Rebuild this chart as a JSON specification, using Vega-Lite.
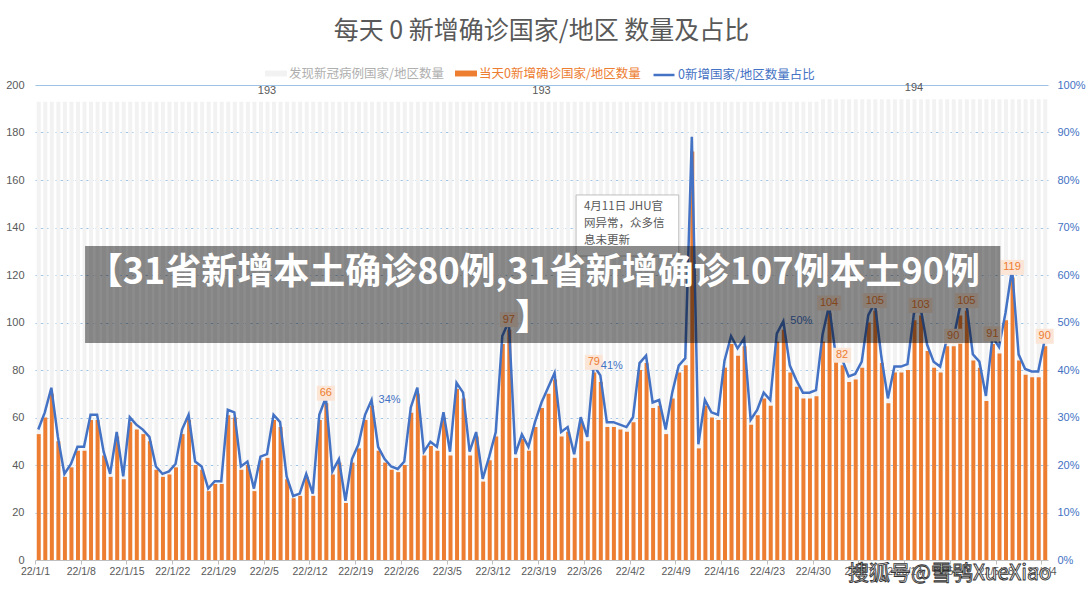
{
"$schema":"https://vega.github.io/schema/vega-lite/v6.json",
"width":1013,"height":475,
"autosize":{"type":"none"},
"padding":{"left":35,"top":85,"right":40,"bottom":30},
"background":"white",
"title":{"text":"每天 0 新增确诊国家/地区 数量及占比","fontSize":25,"fontWeight":"normal","color":"#595959","font":"Noto Sans CJK SC","anchor":"middle","offset":19},
"config":{"font":"Noto Sans CJK SC","view":{"stroke":null},"axis":{"labelFont":"Liberation Sans"},"legend":{"labelLimit":400}},
"data":{"values":[
{"d":"2022-01-01","t":193,"n":53,"p":0.2746},
{"d":"2022-01-02","t":193,"n":60,"p":0.3109},
{"d":"2022-01-03","t":193,"n":70,"p":0.3627},
{"d":"2022-01-04","t":193,"n":50,"p":0.2591},
{"d":"2022-01-05","t":193,"n":35,"p":0.1813},
{"d":"2022-01-06","t":193,"n":39,"p":0.2021},
{"d":"2022-01-07","t":193,"n":46,"p":0.2383},
{"d":"2022-01-08","t":193,"n":46,"p":0.2383},
{"d":"2022-01-09","t":193,"n":59,"p":0.3057},
{"d":"2022-01-10","t":193,"n":59,"p":0.3057},
{"d":"2022-01-11","t":193,"n":44,"p":0.2280},
{"d":"2022-01-12","t":193,"n":35,"p":0.1813},
{"d":"2022-01-13","t":193,"n":52,"p":0.2694},
{"d":"2022-01-14","t":193,"n":34,"p":0.1762},
{"d":"2022-01-15","t":193,"n":58,"p":0.3005},
{"d":"2022-01-16","t":193,"n":55,"p":0.2850},
{"d":"2022-01-17","t":193,"n":53,"p":0.2746},
{"d":"2022-01-18","t":193,"n":50,"p":0.2591},
{"d":"2022-01-19","t":193,"n":38,"p":0.1969},
{"d":"2022-01-20","t":193,"n":35,"p":0.1813},
{"d":"2022-01-21","t":193,"n":36,"p":0.1865},
{"d":"2022-01-22","t":193,"n":39,"p":0.2021},
{"d":"2022-01-23","t":193,"n":53,"p":0.2746},
{"d":"2022-01-24","t":193,"n":59,"p":0.3057},
{"d":"2022-01-25","t":193,"n":40,"p":0.2073},
{"d":"2022-01-26","t":193,"n":38,"p":0.1969},
{"d":"2022-01-27","t":193,"n":29,"p":0.1503},
{"d":"2022-01-28","t":193,"n":32,"p":0.1658},
{"d":"2022-01-29","t":193,"n":32,"p":0.1658},
{"d":"2022-01-30","t":193,"n":61,"p":0.3161},
{"d":"2022-01-31","t":193,"n":60,"p":0.3109},
{"d":"2022-02-01","t":193,"n":38,"p":0.1969},
{"d":"2022-02-02","t":193,"n":40,"p":0.2073},
{"d":"2022-02-03","t":193,"n":29,"p":0.1503},
{"d":"2022-02-04","t":193,"n":42,"p":0.2176},
{"d":"2022-02-05","t":193,"n":43,"p":0.2228,"tl":193},
{"d":"2022-02-06","t":193,"n":59,"p":0.3057},
{"d":"2022-02-07","t":193,"n":56,"p":0.2902},
{"d":"2022-02-08","t":193,"n":34,"p":0.1762},
{"d":"2022-02-09","t":193,"n":26,"p":0.1347},
{"d":"2022-02-10","t":193,"n":27,"p":0.1399},
{"d":"2022-02-11","t":193,"n":35,"p":0.1813},
{"d":"2022-02-12","t":193,"n":27,"p":0.1399},
{"d":"2022-02-13","t":193,"n":59,"p":0.3057},
{"d":"2022-02-14","t":193,"n":66,"p":0.3420,"lab":66},
{"d":"2022-02-15","t":193,"n":36,"p":0.1865},
{"d":"2022-02-16","t":193,"n":41,"p":0.2124},
{"d":"2022-02-17","t":193,"n":24,"p":0.1244},
{"d":"2022-02-18","t":193,"n":41,"p":0.2124},
{"d":"2022-02-19","t":193,"n":47,"p":0.2435},
{"d":"2022-02-20","t":193,"n":59,"p":0.3057},
{"d":"2022-02-21","t":193,"n":65,"p":0.3368,"pl":"34%"},
{"d":"2022-02-22","t":193,"n":46,"p":0.2383},
{"d":"2022-02-23","t":193,"n":41,"p":0.2124},
{"d":"2022-02-24","t":193,"n":38,"p":0.1969},
{"d":"2022-02-25","t":193,"n":37,"p":0.1917},
{"d":"2022-02-26","t":193,"n":40,"p":0.2073},
{"d":"2022-02-27","t":193,"n":62,"p":0.3212},
{"d":"2022-02-28","t":193,"n":70,"p":0.3627},
{"d":"2022-03-01","t":193,"n":44,"p":0.2280},
{"d":"2022-03-02","t":193,"n":48,"p":0.2487},
{"d":"2022-03-03","t":193,"n":46,"p":0.2383},
{"d":"2022-03-04","t":193,"n":60,"p":0.3109},
{"d":"2022-03-05","t":193,"n":44,"p":0.2280},
{"d":"2022-03-06","t":193,"n":72,"p":0.3731},
{"d":"2022-03-07","t":193,"n":68,"p":0.3523},
{"d":"2022-03-08","t":193,"n":44,"p":0.2280},
{"d":"2022-03-09","t":193,"n":52,"p":0.2694},
{"d":"2022-03-10","t":193,"n":33,"p":0.1710},
{"d":"2022-03-11","t":193,"n":42,"p":0.2176},
{"d":"2022-03-12","t":193,"n":52,"p":0.2694},
{"d":"2022-03-13","t":193,"n":91,"p":0.4715},
{"d":"2022-03-14","t":193,"n":97,"p":0.5026,"lab":97},
{"d":"2022-03-15","t":193,"n":43,"p":0.2228},
{"d":"2022-03-16","t":193,"n":51,"p":0.2642},
{"d":"2022-03-17","t":193,"n":46,"p":0.2383},
{"d":"2022-03-18","t":193,"n":56,"p":0.2902},
{"d":"2022-03-19","t":193,"n":64,"p":0.3316,"tl":193},
{"d":"2022-03-20","t":193,"n":70,"p":0.3627},
{"d":"2022-03-21","t":193,"n":76,"p":0.3938},
{"d":"2022-03-22","t":193,"n":52,"p":0.2694},
{"d":"2022-03-23","t":193,"n":54,"p":0.2798},
{"d":"2022-03-24","t":193,"n":43,"p":0.2228},
{"d":"2022-03-25","t":193,"n":58,"p":0.3005},
{"d":"2022-03-26","t":193,"n":50,"p":0.2591},
{"d":"2022-03-27","t":193,"n":79,"p":0.4093,"lab":79,"pl":"41%"},
{"d":"2022-03-28","t":193,"n":75,"p":0.3886},
{"d":"2022-03-29","t":193,"n":56,"p":0.2902},
{"d":"2022-03-30","t":193,"n":56,"p":0.2902},
{"d":"2022-03-31","t":193,"n":55,"p":0.2850},
{"d":"2022-04-01","t":193,"n":54,"p":0.2798},
{"d":"2022-04-02","t":193,"n":58,"p":0.3005},
{"d":"2022-04-03","t":193,"n":80,"p":0.4145},
{"d":"2022-04-04","t":193,"n":83,"p":0.4301},
{"d":"2022-04-05","t":193,"n":64,"p":0.3316},
{"d":"2022-04-06","t":193,"n":65,"p":0.3368},
{"d":"2022-04-07","t":193,"n":53,"p":0.2746},
{"d":"2022-04-08","t":193,"n":68,"p":0.3523},
{"d":"2022-04-09","t":193,"n":79,"p":0.4093},
{"d":"2022-04-10","t":193,"n":82,"p":0.4249},
{"d":"2022-04-11","t":193,"n":172,"p":0.8912},
{"d":"2022-04-12","t":193,"n":47,"p":0.2435},
{"d":"2022-04-13","t":193,"n":65,"p":0.3368},
{"d":"2022-04-14","t":193,"n":60,"p":0.3109},
{"d":"2022-04-15","t":193,"n":59,"p":0.3057},
{"d":"2022-04-16","t":193,"n":81,"p":0.4197},
{"d":"2022-04-17","t":193,"n":91,"p":0.4715},
{"d":"2022-04-18","t":193,"n":86,"p":0.4456},
{"d":"2022-04-19","t":193,"n":90,"p":0.4663},
{"d":"2022-04-20","t":193,"n":57,"p":0.2953},
{"d":"2022-04-21","t":193,"n":61,"p":0.3161},
{"d":"2022-04-22","t":193,"n":68,"p":0.3523},
{"d":"2022-04-23","t":193,"n":65,"p":0.3368},
{"d":"2022-04-24","t":193,"n":92,"p":0.4767},
{"d":"2022-04-25","t":193,"n":97,"p":0.5026,"pl":"50%"},
{"d":"2022-04-26","t":193,"n":79,"p":0.4093},
{"d":"2022-04-27","t":193,"n":73,"p":0.3782},
{"d":"2022-04-28","t":193,"n":68,"p":0.3523},
{"d":"2022-04-29","t":193,"n":68,"p":0.3523},
{"d":"2022-04-30","t":193,"n":69,"p":0.3575},
{"d":"2022-05-01","t":194,"n":92,"p":0.4742},
{"d":"2022-05-02","t":194,"n":104,"p":0.5361,"lab":104},
{"d":"2022-05-03","t":194,"n":84,"p":0.4330},
{"d":"2022-05-04","t":194,"n":82,"p":0.4227,"lab":82},
{"d":"2022-05-05","t":194,"n":75,"p":0.3866},
{"d":"2022-05-06","t":194,"n":76,"p":0.3918},
{"d":"2022-05-07","t":194,"n":81,"p":0.4175},
{"d":"2022-05-08","t":194,"n":100,"p":0.5155},
{"d":"2022-05-09","t":194,"n":105,"p":0.5412,"lab":105},
{"d":"2022-05-10","t":194,"n":83,"p":0.4278},
{"d":"2022-05-11","t":194,"n":66,"p":0.3402},
{"d":"2022-05-12","t":194,"n":79,"p":0.4072},
{"d":"2022-05-13","t":194,"n":79,"p":0.4072},
{"d":"2022-05-14","t":194,"n":80,"p":0.4124},
{"d":"2022-05-15","t":194,"n":101,"p":0.5206,"tl":194},
{"d":"2022-05-16","t":194,"n":103,"p":0.5309,"lab":103},
{"d":"2022-05-17","t":194,"n":88,"p":0.4536},
{"d":"2022-05-18","t":194,"n":81,"p":0.4175},
{"d":"2022-05-19","t":194,"n":79,"p":0.4072},
{"d":"2022-05-20","t":194,"n":90,"p":0.4639},
{"d":"2022-05-21","t":194,"n":90,"p":0.4639,"lab":90},
{"d":"2022-05-22","t":194,"n":103,"p":0.5309},
{"d":"2022-05-23","t":194,"n":105,"p":0.5412,"lab":105},
{"d":"2022-05-24","t":194,"n":84,"p":0.4330},
{"d":"2022-05-25","t":194,"n":81,"p":0.4175},
{"d":"2022-05-26","t":194,"n":67,"p":0.3454},
{"d":"2022-05-27","t":194,"n":91,"p":0.4691,"lab":91},
{"d":"2022-05-28","t":194,"n":87,"p":0.4485},
{"d":"2022-05-29","t":194,"n":101,"p":0.5206},
{"d":"2022-05-30","t":194,"n":119,"p":0.6134,"lab":119},
{"d":"2022-05-31","t":194,"n":84,"p":0.4330},
{"d":"2022-06-01","t":194,"n":78,"p":0.4021},
{"d":"2022-06-02","t":194,"n":77,"p":0.3969},
{"d":"2022-06-03","t":194,"n":77,"p":0.3969},
{"d":"2022-06-04","t":194,"n":90,"p":0.4639,"lab":90}
]},
"layer":[
{"mark":{"type":"bar","width":{"band":0.76}},
 "encoding":{
  "x":{"field":"d","type":"temporal","timeUnit":"utcyearmonthdate","scale":{"type":"utc","domain":[{"year":2022,"month":1,"date":1,"utc":true},{"year":2022,"month":6,"date":5,"utc":true}]},
   "axis":{"title":null,"grid":false,"labelFlush":false,"labelOverlap":false,"labelExpr":"utcFormat(datum.value,'%y/%-m/%-d')","labelFontSize":10.5,"labelColor":"#595959","tickColor":"#BFBFBF","domainColor":"#BFBFBF","tickSize":4,"labelPadding":2,
   "values":[{"year":2022,"month":1,"date":1,"utc":true},{"year":2022,"month":1,"date":8,"utc":true},{"year":2022,"month":1,"date":15,"utc":true},{"year":2022,"month":1,"date":22,"utc":true},{"year":2022,"month":1,"date":29,"utc":true},{"year":2022,"month":2,"date":5,"utc":true},{"year":2022,"month":2,"date":12,"utc":true},{"year":2022,"month":2,"date":19,"utc":true},{"year":2022,"month":2,"date":26,"utc":true},{"year":2022,"month":3,"date":5,"utc":true},{"year":2022,"month":3,"date":12,"utc":true},{"year":2022,"month":3,"date":19,"utc":true},{"year":2022,"month":3,"date":26,"utc":true},{"year":2022,"month":4,"date":2,"utc":true},{"year":2022,"month":4,"date":9,"utc":true},{"year":2022,"month":4,"date":16,"utc":true},{"year":2022,"month":4,"date":23,"utc":true},{"year":2022,"month":4,"date":30,"utc":true},{"year":2022,"month":5,"date":7,"utc":true},{"year":2022,"month":5,"date":14,"utc":true},{"year":2022,"month":5,"date":21,"utc":true},{"year":2022,"month":5,"date":28,"utc":true},{"year":2022,"month":6,"date":4,"utc":true}]}},
  "y":{"field":"t","type":"quantitative","scale":{"domain":[0,200],"nice":false},
   "axis":{"orient":"left","title":null,"values":[0,20,40,60,80,100,120,140,160,180,200],"labelColor":"#595959","labelFontSize":11,"ticks":false,"domain":false,"labelPadding":11,"grid":true,
    "gridColor":{"condition":{"test":"datum.value===0","value":"transparent"},"value":"#9DC3E6"},
    "gridDash":{"condition":{"test":"datum.value===200","value":[]},"value":[3,2]}}},
  "color":{"datum":"发现新冠病例国家/地区数量","scale":{"range":["#F2F2F2"]},
   "legend":{"orient":"none","legendX":230,"legendY":-22.5,"title":null,"padding":0,"symbolType":"M-1,-0.27H1V0.27H-1Z","symbolSize":484,"symbolStrokeWidth":0,"labelFontSize":12.5,"labelColor":"#AFAFAF","labelFont":"Noto Sans CJK SC","labelOffset":2,"labelLimit":400}}
 }},
{"mark":{"type":"bar","width":{"band":0.76}},
 "encoding":{
  "x":{"field":"d","type":"temporal","timeUnit":"utcyearmonthdate","scale":{"type":"utc","domain":[{"year":2022,"month":1,"date":1,"utc":true},{"year":2022,"month":6,"date":5,"utc":true}]}},
  "y":{"field":"n","type":"quantitative","scale":{"domain":[0,200],"nice":false},"axis":null},
  "fill":{"datum":"当天0新增确诊国家/地区数量","scale":{"range":["#ED7D31"]},
   "legend":{"orient":"none","legendX":420,"legendY":-22.5,"title":null,"padding":0,"symbolType":"M-1,-0.27H1V0.27H-1Z","symbolSize":484,"symbolStrokeWidth":0,"labelFontSize":12.5,"labelColor":"#ED7D31","labelFont":"Noto Sans CJK SC","labelOffset":2,"labelLimit":400}}
 }},
{"mark":{"type":"line","strokeWidth":2.5},
 "encoding":{
  "x":{"field":"d","type":"temporal","timeUnit":"utcyearmonthdate","bandPosition":0.5,"scale":{"type":"utc","domain":[{"year":2022,"month":1,"date":1,"utc":true},{"year":2022,"month":6,"date":5,"utc":true}]}},
  "y":{"field":"p","type":"quantitative","scale":{"domain":[0,1],"nice":false},
   "axis":{"orient":"right","title":null,"values":[0,0.1,0.2,0.3,0.4,0.5,0.6,0.7,0.8,0.9,1],"format":".0%","labelColor":"#4472C4","labelFontSize":11,"ticks":false,"domain":false,"grid":false,"labelPadding":9}},
  "stroke":{"datum":"0新增国家/地区数量占比","scale":{"range":["#4472C4"]},
   "legend":{"orient":"none","legendX":617,"legendY":-22,"title":null,"padding":0,"symbolType":"stroke","symbolSize":441,"symbolStrokeWidth":2.5,"labelFontSize":12.5,"labelColor":"#4472C4","labelFont":"Noto Sans CJK SC","labelOffset":2,"labelLimit":400}}
 }},
{"transform":[{"filter":"isValid(datum.lab)"}],
 "mark":{"type":"point","filled":true,"color":"#FBE5D6","opacity":1,"size":576,"yOffset":-10,"strokeWidth":0},
 "encoding":{
  "x":{"field":"d","type":"temporal","timeUnit":"utcyearmonthdate","bandPosition":0.5,"scale":{"type":"utc","domain":[{"year":2022,"month":1,"date":1,"utc":true},{"year":2022,"month":6,"date":5,"utc":true}]}},
  "y":{"field":"n","type":"quantitative","scale":{"domain":[0,200],"nice":false},"axis":null},
  "shape":{"condition":{"test":"datum.lab>=100","value":"M-1,-0.625H1V0.625H-1Z"},"value":"M-0.75,-0.625H0.75V0.625H-0.75Z"}
 }},
{"transform":[{"filter":"isValid(datum.lab)"}],
 "mark":{"type":"text","color":"#ED7D31","fontSize":11,"dy":-10,"baseline":"middle","font":"Liberation Sans"},
 "encoding":{
  "x":{"field":"d","type":"temporal","timeUnit":"utcyearmonthdate","bandPosition":0.5,"scale":{"type":"utc","domain":[{"year":2022,"month":1,"date":1,"utc":true},{"year":2022,"month":6,"date":5,"utc":true}]}},
  "y":{"field":"n","type":"quantitative","scale":{"domain":[0,200],"nice":false},"axis":null},
  "text":{"field":"lab"}
 }},
{"transform":[{"filter":"isValid(datum.pl)"}],
 "mark":{"type":"text","color":"#4472C4","fontSize":11,"dx":7,"align":"left","baseline":"middle","font":"Liberation Sans"},
 "encoding":{
  "x":{"field":"d","type":"temporal","timeUnit":"utcyearmonthdate","bandPosition":0.5,"scale":{"type":"utc","domain":[{"year":2022,"month":1,"date":1,"utc":true},{"year":2022,"month":6,"date":5,"utc":true}]}},
  "y":{"field":"p","type":"quantitative","scale":{"domain":[0,1],"nice":false},"axis":null},
  "text":{"field":"pl"}
 }},
{"transform":[{"filter":"isValid(datum.tl)"}],
 "mark":{"type":"text","color":"#595959","fontSize":11,"dy":-11,"baseline":"middle","font":"Liberation Sans"},
 "encoding":{
  "x":{"field":"d","type":"temporal","timeUnit":"utcyearmonthdate","bandPosition":0.5,"scale":{"type":"utc","domain":[{"year":2022,"month":1,"date":1,"utc":true},{"year":2022,"month":6,"date":5,"utc":true}]}},
  "y":{"field":"t","type":"quantitative","scale":{"domain":[0,200],"nice":false},"axis":null},
  "text":{"field":"tl"}
 }},
{"data":{"values":[{}]},
 "mark":{"type":"rect","fill":"white","stroke":"#BFBFBF","strokeWidth":1},
 "encoding":{
  "x":{"datum":{"year":2022,"month":3,"date":24,"hours":19,"utc":true},"type":"temporal","scale":{"type":"utc","domain":[{"year":2022,"month":1,"date":1,"utc":true},{"year":2022,"month":6,"date":5,"utc":true}]}},
  "x2":{"datum":{"year":2022,"month":4,"date":9,"hours":12,"utc":true}},
  "y":{"datum":153.7,"type":"quantitative","scale":{"domain":[0,200],"nice":false},"axis":null},
  "y2":{"datum":128}
 }},
{"data":{"values":[{}]},
 "mark":{"type":"text","text":["4月11日 JHU官","网异常，众多信","息未更新"],"color":"#595959","fontSize":11.5,"align":"left","baseline":"alphabetic","lineHeight":17,"font":"Noto Sans CJK SC"},
 "encoding":{
  "x":{"datum":{"year":2022,"month":3,"date":26,"utc":true},"type":"temporal","scale":{"type":"utc","domain":[{"year":2022,"month":1,"date":1,"utc":true},{"year":2022,"month":6,"date":5,"utc":true}]}},
  "y":{"datum":147.3,"type":"quantitative","scale":{"domain":[0,200],"nice":false},"axis":null}
 }},
{"data":{"values":[{}]},
 "mark":{"type":"rect","color":"#000000","opacity":0.45},
 "encoding":{
  "x":{"datum":{"year":2022,"month":1,"date":8,"hours":16,"utc":true},"type":"temporal","scale":{"type":"utc","domain":[{"year":2022,"month":1,"date":1,"utc":true},{"year":2022,"month":6,"date":5,"utc":true}]}},
  "x2":{"datum":{"year":2022,"month":5,"date":28,"hours":17,"utc":true}},
  "y":{"datum":132.2,"type":"quantitative","scale":{"domain":[0,200],"nice":false},"axis":null},
  "y2":{"datum":91.4}
 }},
{"data":{"values":[{}]},
 "mark":{"type":"text","text":["【31省新增本土确诊80例,31省新增确诊107例本土90例","】"],"color":"white","fontSize":36,"fontWeight":"bold","align":"center","baseline":"alphabetic","lineHeight":46,"font":"Noto Sans CJK SC"},
 "encoding":{
  "x":{"datum":{"year":2022,"month":3,"date":18,"hours":6,"utc":true},"type":"temporal","scale":{"type":"utc","domain":[{"year":2022,"month":1,"date":1,"utc":true},{"year":2022,"month":6,"date":5,"utc":true}]}},
  "y":{"datum":116.3,"type":"quantitative","scale":{"domain":[0,200],"nice":false},"axis":null}
 }},
{"data":{"values":[{}]},
 "mark":{"type":"text","text":"搜狐号@雪鸮XueXiao","fill":"white","stroke":"#333333","strokeWidth":0.9,"fontSize":21,"align":"left","baseline":"alphabetic","font":"Noto Sans CJK SC"},
 "encoding":{
  "x":{"datum":{"year":2022,"month":5,"date":5,"hours":10,"utc":true},"type":"temporal","scale":{"type":"utc","domain":[{"year":2022,"month":1,"date":1,"utc":true},{"year":2022,"month":6,"date":5,"utc":true}]}},
  "y":{"datum":-8.5,"type":"quantitative","scale":{"domain":[0,200],"nice":false},"axis":null}
 }}
],
"resolve":{"scale":{"y":"independent"}}
}
